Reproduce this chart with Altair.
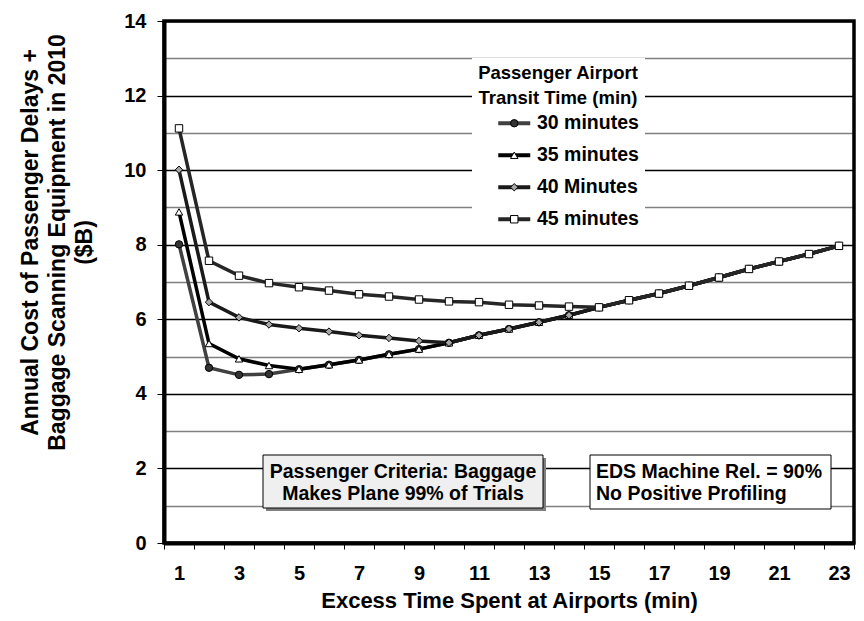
import altair as alt
import pandas as pd

# ---------------- data ----------------
x_minutes = list(range(1, 24))
series_names = ["30 minutes", "35 minutes", "40 Minutes", "45 minutes"]

cost_30 = [8.01, 4.70, 4.51, 4.53, 4.66, 4.78, 4.91, 5.06, 5.20, 5.37, 5.57, 5.74,
           5.92, 6.11, 6.32, 6.51, 6.69, 6.90, 7.12, 7.35, 7.55, 7.75, 7.97]
cost_35 = [8.88, 5.35, 4.94, 4.76, 4.66, 4.78, 4.91, 5.06, 5.20, 5.37, 5.57, 5.74,
           5.92, 6.11, 6.32, 6.51, 6.69, 6.90, 7.12, 7.35, 7.55, 7.75, 7.97]
cost_40 = [10.01, 6.46, 6.05, 5.86, 5.76, 5.67, 5.57, 5.50, 5.42, 5.37, 5.57, 5.74,
           5.92, 6.11, 6.32, 6.51, 6.69, 6.90, 7.12, 7.35, 7.55, 7.75, 7.97]
cost_45 = [11.12, 7.57, 7.17, 6.97, 6.86, 6.77, 6.67, 6.61, 6.53, 6.48, 6.46, 6.39,
           6.37, 6.34, 6.32, 6.51, 6.69, 6.90, 7.12, 7.35, 7.55, 7.75, 7.97]

line_colors = ["#404040", "#000000", "#1a1a1a", "#262626"]
marker_fills = ["#333333", "#ffffff", "#a6a6a6", "#ffffff"]
marker_strokes = ["#000000", "#000000", "#000000", "#000000"]
marker_shapes = ["circle", "triangle-up", "diamond", "square"]

legend_title = ["Passenger Airport", "Transit Time (min)"]
box1_lines = ["Passenger Criteria: Baggage", "Makes Plane 99% of Trials"]
box2_lines = ["EDS Machine Rel. = 90%", "No Positive Profiling"]
x_title = "Excess Time Spent at Airports (min)"
y_title = ["Annual Cost of Passenger Delays +", "Baggage Scanning Equipment in 2010", "($B)"]

rows = []
for name, vals in zip(series_names, [cost_30, cost_35, cost_40, cost_45]):
    for xv, v in zip(x_minutes, vals):
        rows.append({"x": xv, "cost": v, "series": name})
df = pd.DataFrame(rows)

FONT = "Liberation Sans"
FS = 19.5
W, H = 690, 522
TOP = 3  # plot top offset shift vs. first layout (plot top at page y = 21)

x_enc = alt.X(
    "x:Q",
    scale=alt.Scale(domain=[0.5, 23.5], nice=False, zero=False),
    axis=alt.Axis(
        values=[i + 0.5 for i in range(24)],
        labelExpr="(datum.value + 0.5) % 2 == 1 ? format(datum.value + 0.5, 'd') : ''",
        labelOffset=15,
        labelFlush=False,
        labelOverlap=False,
        labelBound=False,
        grid=False,
        tickSize=6,
        tickWidth=1,
        tickColor="black",
        domainColor="black",
        domainWidth=4,
        labelPadding=14,
        labelFontSize=20,
        labelFontWeight="bold",
        labelColor="black",
        title=x_title,
        titleFontSize=22,
        titleFontWeight="bold",
        titleColor="black",
        titleBaseline="middle",
        titleY=57,
    ),
)

y_enc = alt.Y(
    "cost:Q",
    scale=alt.Scale(domain=[0, 14], nice=False, zero=True),
    axis=alt.Axis(
        values=list(range(15)),
        labelExpr="datum.value % 2 == 0 ? datum.label : ''",
        labelOverlap=False,
        labelFlush=False,
        grid=True,
        gridColor={"condition": {"test": "datum.value % 2 == 0", "value": "#000000"}, "value": "#808080"},
        gridWidth=1.3,
        tickColor={"condition": {"test": "datum.value % 2 == 0", "value": "#000000"}, "value": "transparent"},
        tickSize=7,
        tickWidth=1,
        domainColor="black",
        domainWidth=4,
        labelPadding=11,
        labelFontSize=20,
        labelFontWeight="bold",
        labelColor="black",
        title=y_title,
        titleFontSize=23,
        titleFontWeight="bold",
        titleColor="black",
        titleAngle=270,
        titleAlign="center",
        titleBaseline="middle",
        titleLineHeight=27,
        titleX=-134,
        titleY=224 - TOP,
    ),
)

common_legend = dict(
    orient="none",
    legendX=308,
    legendY=40 - TOP,
    title=legend_title,
    titleFontSize=18.5,
    titleFontWeight="bold",
    titleColor="black",
    titleAnchor="middle",
    titleAlign="center",
    titleLineHeight=25,
    titlePadding=6,
    labelFontSize=FS,
    labelFontWeight="bold",
    labelColor="black",
    rowPadding=11,
    padding=6,
    symbolOffset=26.5,
    labelOffset=13,
)

lines = alt.Chart(df).mark_line(strokeWidth=3.5).encode(
    x=x_enc,
    y=y_enc,
    color=alt.Color(
        "series:N",
        scale=alt.Scale(domain=series_names, range=line_colors),
        legend=alt.Legend(
            fillColor="white",
            symbolType="M-4,0H4",
            symbolSize=64,
            symbolStrokeWidth=4,
            zindex=1,
            **common_legend,
        ),
    ),
)

shape_legend = alt.Legend(
    titleOpacity=0,
    labelOpacity=0,
    symbolSize=55,
    symbolStrokeWidth=1,
    zindex=2,
    **common_legend,
)

points = alt.Chart(df).transform_calculate(series2="datum.series").mark_point(
    filled=True, size=55, strokeWidth=1, opacity=1
).encode(
    x=x_enc,
    y=y_enc,
    shape=alt.Shape("series2:N", scale=alt.Scale(range=marker_shapes), legend=shape_legend),
    fill=alt.Fill("series2:N", scale=alt.Scale(range=marker_fills), legend=shape_legend),
    stroke=alt.Stroke("series2:N", scale=alt.Scale(range=marker_strokes), legend=shape_legend),
)

anno = alt.Data(values=[{"a": 1}])

shadow = alt.Chart(anno).mark_rect(color="#808080").encode(
    x=alt.value(102), x2=alt.value(382), y=alt.value(440 - TOP), y2=alt.value(493 - TOP)
)
box1 = alt.Chart(anno).mark_rect(fill="#efefef", stroke="black", strokeWidth=1).encode(
    x=alt.value(99), x2=alt.value(379), y=alt.value(437 - TOP), y2=alt.value(490 - TOP)
)
box2 = alt.Chart(anno).mark_rect(fill="white", stroke="black", strokeWidth=1).encode(
    x=alt.value(426), x2=alt.value(667), y=alt.value(437 - TOP), y2=alt.value(491 - TOP)
)
frame = alt.Chart(anno).mark_rect(fillOpacity=0, stroke="black", strokeWidth=3.5).encode(
    x=alt.value(0), x2=alt.value(W), y=alt.value(0), y2=alt.value(H)
)


def text_line(txt, xpx, ypx, align):
    return alt.Chart(anno).mark_text(
        font=FONT, fontSize=FS, fontWeight="bold", color="black", align=align, baseline="middle"
    ).encode(x=alt.value(xpx), y=alt.value(ypx), text=alt.value(txt))


texts = [
    text_line(box1_lines[0], 239, 454 - TOP, "center"),
    text_line(box1_lines[1], 239, 475.5 - TOP, "center"),
    text_line(box2_lines[0], 432, 454 - TOP, "left"),
    text_line(box2_lines[1], 432, 475.5 - TOP, "left"),
]

chart = alt.layer(shadow, box1, box2, *texts, lines, points, frame).properties(
    width=W,
    height=H,
    autosize=alt.AutoSizeParams(type="none"),
    padding={"left": 156, "top": 13, "right": 2, "bottom": 70},
).configure(font=FONT).configure_view(strokeWidth=0)

chart.save("out.html", embed_options={"renderer": "svg", "actions": False})
